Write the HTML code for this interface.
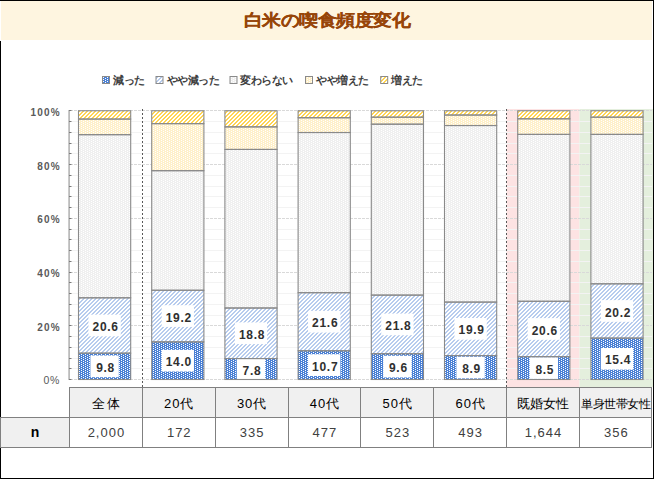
<!DOCTYPE html>
<html><head><meta charset="utf-8"><style>
html,body{margin:0;padding:0;background:#fff;}
body{width:654px;height:479px;position:relative;overflow:hidden;font-family:"Liberation Sans", sans-serif;}
#hdr{position:absolute;left:1px;top:1px;width:651px;height:39px;background:#FEF5E0;}
#title{position:absolute;left:0;top:10px;width:654px;text-align:center;font-size:18.4px;letter-spacing:0.5px;font-weight:bold;color:#974509;-webkit-text-stroke:0.2px #974509;line-height:24px;transform:scaleY(0.9);transform-origin:50% 2px;}
#frame{position:absolute;left:0;top:0;width:653px;height:477px;border-top:1px solid #000;border-right:1px solid #000;border-bottom:1px solid #000;}
#lb{position:absolute;left:0;top:41px;width:1px;height:438px;background:#000;}
</style></head><body>
<div id="hdr"></div>
<div id="title">白米の喫食頻度変化</div>
<svg width="654" height="479" style="position:absolute;left:0;top:0" font-family='"Liberation Sans", sans-serif'><defs><pattern id="pBlue" width="4" height="2" patternUnits="userSpaceOnUse"><rect width="4" height="2" fill="#4A80D5"/><rect x="1" y="0" width="1" height="1" fill="#fff"/><rect x="3" y="1" width="1" height="1" fill="#fff"/></pattern><pattern id="pLBlue" width="4" height="4" patternUnits="userSpaceOnUse"><rect width="4" height="4" fill="#fff"/><rect x="1" y="0" width="1" height="1" fill="#B7CCEE"/><rect x="2" y="0" width="1" height="1" fill="#B7CCEE"/><rect x="0" y="1" width="1" height="1" fill="#B7CCEE"/><rect x="1" y="1" width="1" height="1" fill="#B7CCEE"/><rect x="0" y="2" width="1" height="1" fill="#B7CCEE"/><rect x="3" y="2" width="1" height="1" fill="#B7CCEE"/><rect x="2" y="3" width="1" height="1" fill="#B7CCEE"/><rect x="3" y="3" width="1" height="1" fill="#B7CCEE"/></pattern><pattern id="pGray" width="4" height="2" patternUnits="userSpaceOnUse"><rect width="4" height="2" fill="#EFEFEF"/><rect x="1" y="0" width="1" height="1" fill="#fff"/><rect x="3" y="1" width="1" height="1" fill="#fff"/></pattern><pattern id="pLYel" width="4" height="2" patternUnits="userSpaceOnUse"><rect width="4" height="2" fill="#FFF0C9"/><rect x="1" y="0" width="1" height="1" fill="#fff"/><rect x="3" y="1" width="1" height="1" fill="#fff"/></pattern><pattern id="pYel" width="4" height="4" patternUnits="userSpaceOnUse"><rect width="4" height="4" fill="#fff"/><rect x="1" y="0" width="1" height="1" fill="#FFD453"/><rect x="2" y="0" width="1" height="1" fill="#FFD453"/><rect x="0" y="1" width="1" height="1" fill="#FFD453"/><rect x="1" y="1" width="1" height="1" fill="#FFD453"/><rect x="0" y="2" width="1" height="1" fill="#FFD453"/><rect x="3" y="2" width="1" height="1" fill="#FFD453"/><rect x="2" y="3" width="1" height="1" fill="#FFD453"/><rect x="3" y="3" width="1" height="1" fill="#FFD453"/></pattern></defs><rect x="506.5" y="109" width="73" height="278" fill="#FDE3E3"/><rect x="579.5" y="109" width="73.5" height="278" fill="#E4EFDD"/><line x1="70" x2="652" y1="368.5" y2="368.5" stroke="#F3F3F3" stroke-width="1"/><line x1="70" x2="652" y1="358.5" y2="358.5" stroke="#F3F3F3" stroke-width="1"/><line x1="70" x2="652" y1="347.5" y2="347.5" stroke="#F3F3F3" stroke-width="1"/><line x1="70" x2="652" y1="336.5" y2="336.5" stroke="#F3F3F3" stroke-width="1"/><line x1="70" x2="652" y1="315.5" y2="315.5" stroke="#F3F3F3" stroke-width="1"/><line x1="70" x2="652" y1="304.5" y2="304.5" stroke="#F3F3F3" stroke-width="1"/><line x1="70" x2="652" y1="293.5" y2="293.5" stroke="#F3F3F3" stroke-width="1"/><line x1="70" x2="652" y1="282.5" y2="282.5" stroke="#F3F3F3" stroke-width="1"/><line x1="70" x2="652" y1="261.5" y2="261.5" stroke="#F3F3F3" stroke-width="1"/><line x1="70" x2="652" y1="250.5" y2="250.5" stroke="#F3F3F3" stroke-width="1"/><line x1="70" x2="652" y1="239.5" y2="239.5" stroke="#F3F3F3" stroke-width="1"/><line x1="70" x2="652" y1="229.5" y2="229.5" stroke="#F3F3F3" stroke-width="1"/><line x1="70" x2="652" y1="207.5" y2="207.5" stroke="#F3F3F3" stroke-width="1"/><line x1="70" x2="652" y1="196.5" y2="196.5" stroke="#F3F3F3" stroke-width="1"/><line x1="70" x2="652" y1="186.5" y2="186.5" stroke="#F3F3F3" stroke-width="1"/><line x1="70" x2="652" y1="175.5" y2="175.5" stroke="#F3F3F3" stroke-width="1"/><line x1="70" x2="652" y1="153.5" y2="153.5" stroke="#F3F3F3" stroke-width="1"/><line x1="70" x2="652" y1="143.5" y2="143.5" stroke="#F3F3F3" stroke-width="1"/><line x1="70" x2="652" y1="132.5" y2="132.5" stroke="#F3F3F3" stroke-width="1"/><line x1="70" x2="652" y1="121.5" y2="121.5" stroke="#F3F3F3" stroke-width="1"/><line x1="70" x2="652" y1="379.5" y2="379.5" stroke="#D9D9D9" stroke-width="1" stroke-dasharray="3 1"/><line x1="70" x2="652" y1="325.5" y2="325.5" stroke="#D9D9D9" stroke-width="1" stroke-dasharray="3 1"/><line x1="70" x2="652" y1="272.5" y2="272.5" stroke="#D9D9D9" stroke-width="1" stroke-dasharray="3 1"/><line x1="70" x2="652" y1="218.5" y2="218.5" stroke="#D9D9D9" stroke-width="1" stroke-dasharray="3 1"/><line x1="70" x2="652" y1="164.5" y2="164.5" stroke="#D9D9D9" stroke-width="1" stroke-dasharray="3 1"/><line x1="70" x2="652" y1="110.5" y2="110.5" stroke="#D9D9D9" stroke-width="1" stroke-dasharray="3 1"/><line x1="69.1" x2="69.1" y1="110" y2="380.0" stroke="#B4B4B4" stroke-width="1.6"/><line x1="69" x2="71.5" y1="379.5" y2="379.5" stroke="#7A7A7A" stroke-width="1"/><line x1="69" x2="71.5" y1="368.5" y2="368.5" stroke="#7A7A7A" stroke-width="1"/><line x1="69" x2="71.5" y1="358.5" y2="358.5" stroke="#7A7A7A" stroke-width="1"/><line x1="69" x2="71.5" y1="347.5" y2="347.5" stroke="#7A7A7A" stroke-width="1"/><line x1="69" x2="71.5" y1="336.5" y2="336.5" stroke="#7A7A7A" stroke-width="1"/><line x1="69" x2="71.5" y1="325.5" y2="325.5" stroke="#7A7A7A" stroke-width="1"/><line x1="69" x2="71.5" y1="315.5" y2="315.5" stroke="#7A7A7A" stroke-width="1"/><line x1="69" x2="71.5" y1="304.5" y2="304.5" stroke="#7A7A7A" stroke-width="1"/><line x1="69" x2="71.5" y1="293.5" y2="293.5" stroke="#7A7A7A" stroke-width="1"/><line x1="69" x2="71.5" y1="282.5" y2="282.5" stroke="#7A7A7A" stroke-width="1"/><line x1="69" x2="71.5" y1="272.5" y2="272.5" stroke="#7A7A7A" stroke-width="1"/><line x1="69" x2="71.5" y1="261.5" y2="261.5" stroke="#7A7A7A" stroke-width="1"/><line x1="69" x2="71.5" y1="250.5" y2="250.5" stroke="#7A7A7A" stroke-width="1"/><line x1="69" x2="71.5" y1="239.5" y2="239.5" stroke="#7A7A7A" stroke-width="1"/><line x1="69" x2="71.5" y1="229.5" y2="229.5" stroke="#7A7A7A" stroke-width="1"/><line x1="69" x2="71.5" y1="218.5" y2="218.5" stroke="#7A7A7A" stroke-width="1"/><line x1="69" x2="71.5" y1="207.5" y2="207.5" stroke="#7A7A7A" stroke-width="1"/><line x1="69" x2="71.5" y1="196.5" y2="196.5" stroke="#7A7A7A" stroke-width="1"/><line x1="69" x2="71.5" y1="186.5" y2="186.5" stroke="#7A7A7A" stroke-width="1"/><line x1="69" x2="71.5" y1="175.5" y2="175.5" stroke="#7A7A7A" stroke-width="1"/><line x1="69" x2="71.5" y1="164.5" y2="164.5" stroke="#7A7A7A" stroke-width="1"/><line x1="69" x2="71.5" y1="153.5" y2="153.5" stroke="#7A7A7A" stroke-width="1"/><line x1="69" x2="71.5" y1="143.5" y2="143.5" stroke="#7A7A7A" stroke-width="1"/><line x1="69" x2="71.5" y1="132.5" y2="132.5" stroke="#7A7A7A" stroke-width="1"/><line x1="69" x2="71.5" y1="121.5" y2="121.5" stroke="#7A7A7A" stroke-width="1"/><line x1="69" x2="71.5" y1="110.5" y2="110.5" stroke="#7A7A7A" stroke-width="1"/><line x1="142.5" x2="142.5" y1="109" y2="387" stroke="#595959" stroke-width="1" stroke-dasharray="2 2"/><line x1="506.5" x2="506.5" y1="109" y2="387" stroke="#595959" stroke-width="1" stroke-dasharray="2 2"/><rect x="78.50" y="353.16" width="52.2" height="26.34" fill="url(#pBlue)" shape-rendering="crispEdges"/><rect x="78.50" y="297.80" width="52.2" height="55.36" fill="url(#pLBlue)" shape-rendering="crispEdges"/><rect x="78.50" y="134.67" width="52.2" height="163.13" fill="url(#pGray)" shape-rendering="crispEdges"/><rect x="78.50" y="119.08" width="52.2" height="15.59" fill="url(#pLYel)" shape-rendering="crispEdges"/><rect x="78.50" y="110.75" width="52.2" height="8.33" fill="url(#pYel)" shape-rendering="crispEdges"/><rect x="151.70" y="341.88" width="52.2" height="37.62" fill="url(#pBlue)" shape-rendering="crispEdges"/><rect x="151.70" y="290.27" width="52.2" height="51.60" fill="url(#pLBlue)" shape-rendering="crispEdges"/><rect x="151.70" y="170.68" width="52.2" height="119.59" fill="url(#pGray)" shape-rendering="crispEdges"/><rect x="151.70" y="123.65" width="52.2" height="47.03" fill="url(#pLYel)" shape-rendering="crispEdges"/><rect x="151.70" y="110.75" width="52.2" height="12.90" fill="url(#pYel)" shape-rendering="crispEdges"/><rect x="224.90" y="358.54" width="52.2" height="20.96" fill="url(#pBlue)" shape-rendering="crispEdges"/><rect x="224.90" y="308.01" width="52.2" height="50.53" fill="url(#pLBlue)" shape-rendering="crispEdges"/><rect x="224.90" y="149.45" width="52.2" height="158.56" fill="url(#pGray)" shape-rendering="crispEdges"/><rect x="224.90" y="126.87" width="52.2" height="22.57" fill="url(#pLYel)" shape-rendering="crispEdges"/><rect x="224.90" y="110.75" width="52.2" height="16.13" fill="url(#pYel)" shape-rendering="crispEdges"/><rect x="298.10" y="350.74" width="52.2" height="28.76" fill="url(#pBlue)" shape-rendering="crispEdges"/><rect x="298.10" y="292.69" width="52.2" height="58.05" fill="url(#pLBlue)" shape-rendering="crispEdges"/><rect x="298.10" y="132.52" width="52.2" height="160.17" fill="url(#pGray)" shape-rendering="crispEdges"/><rect x="298.10" y="117.74" width="52.2" height="14.78" fill="url(#pLYel)" shape-rendering="crispEdges"/><rect x="298.10" y="110.75" width="52.2" height="6.99" fill="url(#pYel)" shape-rendering="crispEdges"/><rect x="371.30" y="353.70" width="52.2" height="25.80" fill="url(#pBlue)" shape-rendering="crispEdges"/><rect x="371.30" y="295.11" width="52.2" height="58.59" fill="url(#pLBlue)" shape-rendering="crispEdges"/><rect x="371.30" y="124.19" width="52.2" height="170.93" fill="url(#pGray)" shape-rendering="crispEdges"/><rect x="371.30" y="117.20" width="52.2" height="6.99" fill="url(#pLYel)" shape-rendering="crispEdges"/><rect x="371.30" y="110.75" width="52.2" height="6.45" fill="url(#pYel)" shape-rendering="crispEdges"/><rect x="444.50" y="355.58" width="52.2" height="23.92" fill="url(#pBlue)" shape-rendering="crispEdges"/><rect x="444.50" y="302.10" width="52.2" height="53.48" fill="url(#pLBlue)" shape-rendering="crispEdges"/><rect x="444.50" y="125.53" width="52.2" height="176.57" fill="url(#pGray)" shape-rendering="crispEdges"/><rect x="444.50" y="115.05" width="52.2" height="10.48" fill="url(#pLYel)" shape-rendering="crispEdges"/><rect x="444.50" y="110.75" width="52.2" height="4.30" fill="url(#pYel)" shape-rendering="crispEdges"/><rect x="517.70" y="356.66" width="52.2" height="22.84" fill="url(#pBlue)" shape-rendering="crispEdges"/><rect x="517.70" y="301.29" width="52.2" height="55.36" fill="url(#pLBlue)" shape-rendering="crispEdges"/><rect x="517.70" y="134.40" width="52.2" height="166.89" fill="url(#pGray)" shape-rendering="crispEdges"/><rect x="517.70" y="118.81" width="52.2" height="15.59" fill="url(#pLYel)" shape-rendering="crispEdges"/><rect x="517.70" y="110.75" width="52.2" height="8.06" fill="url(#pYel)" shape-rendering="crispEdges"/><rect x="590.90" y="338.11" width="52.2" height="41.39" fill="url(#pBlue)" shape-rendering="crispEdges"/><rect x="590.90" y="283.82" width="52.2" height="54.29" fill="url(#pLBlue)" shape-rendering="crispEdges"/><rect x="590.90" y="134.40" width="52.2" height="149.42" fill="url(#pGray)" shape-rendering="crispEdges"/><rect x="590.90" y="117.20" width="52.2" height="17.20" fill="url(#pLYel)" shape-rendering="crispEdges"/><rect x="590.90" y="110.75" width="52.2" height="6.45" fill="url(#pYel)" shape-rendering="crispEdges"/><rect x="90.40" y="355.48" width="28.40" height="21.7" fill="#fff"/><rect x="88.45" y="314.63" width="32.30" height="21.7" fill="#fff"/><rect x="161.65" y="349.84" width="32.30" height="21.7" fill="#fff"/><rect x="161.65" y="305.22" width="32.30" height="21.7" fill="#fff"/><rect x="236.80" y="358.17" width="28.40" height="21.7" fill="#fff"/><rect x="234.85" y="322.42" width="32.30" height="21.7" fill="#fff"/><rect x="308.05" y="354.27" width="32.30" height="21.7" fill="#fff"/><rect x="308.05" y="310.87" width="32.30" height="21.7" fill="#fff"/><rect x="383.20" y="355.75" width="28.40" height="21.7" fill="#fff"/><rect x="381.25" y="313.56" width="32.30" height="21.7" fill="#fff"/><rect x="456.40" y="356.69" width="28.40" height="21.7" fill="#fff"/><rect x="454.45" y="317.99" width="32.30" height="21.7" fill="#fff"/><rect x="529.60" y="357.23" width="28.40" height="21.7" fill="#fff"/><rect x="527.65" y="318.12" width="32.30" height="21.7" fill="#fff"/><rect x="600.85" y="347.96" width="32.30" height="21.7" fill="#fff"/><rect x="600.85" y="300.12" width="32.30" height="21.7" fill="#fff"/><rect x="78.50" y="353.16" width="52.2" height="26.34" fill="none" stroke="#8A8A8A" stroke-width="1.1"/><rect x="78.50" y="297.80" width="52.2" height="55.36" fill="none" stroke="#8A8A8A" stroke-width="1.1"/><rect x="78.50" y="134.67" width="52.2" height="163.13" fill="none" stroke="#8A8A8A" stroke-width="1.1"/><rect x="78.50" y="119.08" width="52.2" height="15.59" fill="none" stroke="#8A8A8A" stroke-width="1.1"/><rect x="78.50" y="110.75" width="52.2" height="8.33" fill="none" stroke="#8A8A8A" stroke-width="1.1"/><rect x="151.70" y="341.88" width="52.2" height="37.62" fill="none" stroke="#8A8A8A" stroke-width="1.1"/><rect x="151.70" y="290.27" width="52.2" height="51.60" fill="none" stroke="#8A8A8A" stroke-width="1.1"/><rect x="151.70" y="170.68" width="52.2" height="119.59" fill="none" stroke="#8A8A8A" stroke-width="1.1"/><rect x="151.70" y="123.65" width="52.2" height="47.03" fill="none" stroke="#8A8A8A" stroke-width="1.1"/><rect x="151.70" y="110.75" width="52.2" height="12.90" fill="none" stroke="#8A8A8A" stroke-width="1.1"/><rect x="224.90" y="358.54" width="52.2" height="20.96" fill="none" stroke="#8A8A8A" stroke-width="1.1"/><rect x="224.90" y="308.01" width="52.2" height="50.53" fill="none" stroke="#8A8A8A" stroke-width="1.1"/><rect x="224.90" y="149.45" width="52.2" height="158.56" fill="none" stroke="#8A8A8A" stroke-width="1.1"/><rect x="224.90" y="126.87" width="52.2" height="22.57" fill="none" stroke="#8A8A8A" stroke-width="1.1"/><rect x="224.90" y="110.75" width="52.2" height="16.13" fill="none" stroke="#8A8A8A" stroke-width="1.1"/><rect x="298.10" y="350.74" width="52.2" height="28.76" fill="none" stroke="#8A8A8A" stroke-width="1.1"/><rect x="298.10" y="292.69" width="52.2" height="58.05" fill="none" stroke="#8A8A8A" stroke-width="1.1"/><rect x="298.10" y="132.52" width="52.2" height="160.17" fill="none" stroke="#8A8A8A" stroke-width="1.1"/><rect x="298.10" y="117.74" width="52.2" height="14.78" fill="none" stroke="#8A8A8A" stroke-width="1.1"/><rect x="298.10" y="110.75" width="52.2" height="6.99" fill="none" stroke="#8A8A8A" stroke-width="1.1"/><rect x="371.30" y="353.70" width="52.2" height="25.80" fill="none" stroke="#8A8A8A" stroke-width="1.1"/><rect x="371.30" y="295.11" width="52.2" height="58.59" fill="none" stroke="#8A8A8A" stroke-width="1.1"/><rect x="371.30" y="124.19" width="52.2" height="170.93" fill="none" stroke="#8A8A8A" stroke-width="1.1"/><rect x="371.30" y="117.20" width="52.2" height="6.99" fill="none" stroke="#8A8A8A" stroke-width="1.1"/><rect x="371.30" y="110.75" width="52.2" height="6.45" fill="none" stroke="#8A8A8A" stroke-width="1.1"/><rect x="444.50" y="355.58" width="52.2" height="23.92" fill="none" stroke="#8A8A8A" stroke-width="1.1"/><rect x="444.50" y="302.10" width="52.2" height="53.48" fill="none" stroke="#8A8A8A" stroke-width="1.1"/><rect x="444.50" y="125.53" width="52.2" height="176.57" fill="none" stroke="#8A8A8A" stroke-width="1.1"/><rect x="444.50" y="115.05" width="52.2" height="10.48" fill="none" stroke="#8A8A8A" stroke-width="1.1"/><rect x="444.50" y="110.75" width="52.2" height="4.30" fill="none" stroke="#8A8A8A" stroke-width="1.1"/><rect x="517.70" y="356.66" width="52.2" height="22.84" fill="none" stroke="#8A8A8A" stroke-width="1.1"/><rect x="517.70" y="301.29" width="52.2" height="55.36" fill="none" stroke="#8A8A8A" stroke-width="1.1"/><rect x="517.70" y="134.40" width="52.2" height="166.89" fill="none" stroke="#8A8A8A" stroke-width="1.1"/><rect x="517.70" y="118.81" width="52.2" height="15.59" fill="none" stroke="#8A8A8A" stroke-width="1.1"/><rect x="517.70" y="110.75" width="52.2" height="8.06" fill="none" stroke="#8A8A8A" stroke-width="1.1"/><rect x="590.90" y="338.11" width="52.2" height="41.39" fill="none" stroke="#8A8A8A" stroke-width="1.1"/><rect x="590.90" y="283.82" width="52.2" height="54.29" fill="none" stroke="#8A8A8A" stroke-width="1.1"/><rect x="590.90" y="134.40" width="52.2" height="149.42" fill="none" stroke="#8A8A8A" stroke-width="1.1"/><rect x="590.90" y="117.20" width="52.2" height="17.20" fill="none" stroke="#8A8A8A" stroke-width="1.1"/><rect x="590.90" y="110.75" width="52.2" height="6.45" fill="none" stroke="#8A8A8A" stroke-width="1.1"/><text x="105.60" y="371.93" text-anchor="middle" font-size="12" letter-spacing="0.7" font-weight="bold" fill="#303030">9.8</text><text x="105.60" y="331.08" text-anchor="middle" font-size="12" letter-spacing="0.7" font-weight="bold" fill="#303030">20.6</text><text x="178.80" y="366.29" text-anchor="middle" font-size="12" letter-spacing="0.7" font-weight="bold" fill="#303030">14.0</text><text x="178.80" y="321.68" text-anchor="middle" font-size="12" letter-spacing="0.7" font-weight="bold" fill="#303030">19.2</text><text x="252.00" y="374.62" text-anchor="middle" font-size="12" letter-spacing="0.7" font-weight="bold" fill="#303030">7.8</text><text x="252.00" y="338.88" text-anchor="middle" font-size="12" letter-spacing="0.7" font-weight="bold" fill="#303030">18.8</text><text x="325.20" y="370.72" text-anchor="middle" font-size="12" letter-spacing="0.7" font-weight="bold" fill="#303030">10.7</text><text x="325.20" y="327.32" text-anchor="middle" font-size="12" letter-spacing="0.7" font-weight="bold" fill="#303030">21.6</text><text x="398.40" y="372.20" text-anchor="middle" font-size="12" letter-spacing="0.7" font-weight="bold" fill="#303030">9.6</text><text x="398.40" y="330.01" text-anchor="middle" font-size="12" letter-spacing="0.7" font-weight="bold" fill="#303030">21.8</text><text x="471.60" y="373.14" text-anchor="middle" font-size="12" letter-spacing="0.7" font-weight="bold" fill="#303030">8.9</text><text x="471.60" y="334.44" text-anchor="middle" font-size="12" letter-spacing="0.7" font-weight="bold" fill="#303030">19.9</text><text x="544.80" y="373.68" text-anchor="middle" font-size="12" letter-spacing="0.7" font-weight="bold" fill="#303030">8.5</text><text x="544.80" y="334.58" text-anchor="middle" font-size="12" letter-spacing="0.7" font-weight="bold" fill="#303030">20.6</text><text x="618.00" y="364.41" text-anchor="middle" font-size="12" letter-spacing="0.7" font-weight="bold" fill="#303030">15.4</text><text x="618.00" y="316.57" text-anchor="middle" font-size="12" letter-spacing="0.7" font-weight="bold" fill="#303030">20.2</text><text x="60" y="384.00" text-anchor="end" font-size="10.5" letter-spacing="0.6" fill="#595959">0%</text><text x="60.9" y="330.75" text-anchor="end" font-size="10" letter-spacing="1.2" font-weight="bold" fill="#5A5A5A">20%</text><text x="60.9" y="277.00" text-anchor="end" font-size="10" letter-spacing="1.2" font-weight="bold" fill="#5A5A5A">40%</text><text x="60.9" y="223.25" text-anchor="end" font-size="10" letter-spacing="1.2" font-weight="bold" fill="#5A5A5A">60%</text><text x="60.9" y="169.50" text-anchor="end" font-size="10" letter-spacing="1.2" font-weight="bold" fill="#5A5A5A">80%</text><text x="60.9" y="115.75" text-anchor="end" font-size="10" letter-spacing="1.2" font-weight="bold" fill="#5A5A5A">100%</text><rect x="102.5" y="76.5" width="7" height="7" fill="url(#pBlue)" stroke="#8A8A8A" stroke-width="1"/><text x="113" y="83.6" font-size="11" letter-spacing="-0.4" font-weight="bold" fill="#404040">減った</text><rect x="156.0" y="76.5" width="7" height="7" fill="url(#pLBlue)" stroke="#8A8A8A" stroke-width="1"/><text x="166.5" y="83.6" font-size="11" letter-spacing="-0.4" font-weight="bold" fill="#404040">やや減った</text><rect x="230.0" y="76.5" width="7" height="7" fill="url(#pGray)" stroke="#8A8A8A" stroke-width="1"/><text x="240" y="83.6" font-size="11" letter-spacing="-0.4" font-weight="bold" fill="#404040">変わらない</text><rect x="305.5" y="76.5" width="7" height="7" fill="url(#pLYel)" stroke="#8A8A8A" stroke-width="1"/><text x="316" y="83.6" font-size="11" letter-spacing="-0.4" font-weight="bold" fill="#404040">やや増えた</text><rect x="380.7" y="76.5" width="7" height="7" fill="url(#pYel)" stroke="#8A8A8A" stroke-width="1"/><text x="391" y="83.6" font-size="11" letter-spacing="-0.4" font-weight="bold" fill="#404040">増えた</text></svg>
<div id="frame"></div><div id="lb"></div>
<svg width="654" height="479" style="position:absolute;left:0;top:0" font-family='"Liberation Sans", sans-serif'><rect x="69.5" y="387.5" width="582" height="30" fill="#F0F0F0" stroke="#808080" stroke-width="1"/><rect x="0.5" y="417.5" width="69" height="30" fill="#F0F0F0" stroke="#808080" stroke-width="1"/><rect x="69.5" y="417.5" width="582" height="30" fill="#fff" stroke="#808080" stroke-width="1"/><line x1="142.5" x2="142.5" y1="387.5" y2="447.5" stroke="#808080" stroke-width="1"/><line x1="215.5" x2="215.5" y1="387.5" y2="447.5" stroke="#808080" stroke-width="1"/><line x1="288.5" x2="288.5" y1="387.5" y2="447.5" stroke="#808080" stroke-width="1"/><line x1="360.5" x2="360.5" y1="387.5" y2="447.5" stroke="#808080" stroke-width="1"/><line x1="433.5" x2="433.5" y1="387.5" y2="447.5" stroke="#808080" stroke-width="1"/><line x1="506.5" x2="506.5" y1="387.5" y2="447.5" stroke="#808080" stroke-width="1"/><line x1="579.5" x2="579.5" y1="387.5" y2="447.5" stroke="#808080" stroke-width="1"/><text x="106.92" y="408" text-anchor="middle" font-size="13" letter-spacing="2" fill="#000">全体</text><text x="106.42" y="437.3" text-anchor="middle" font-size="13" letter-spacing="1" fill="#404040">2,000</text><text x="179.27" y="408" text-anchor="middle" font-size="13" letter-spacing="1" fill="#000">20代</text><text x="179.27" y="437.3" text-anchor="middle" font-size="13" letter-spacing="1" fill="#404040">172</text><text x="252.12" y="408" text-anchor="middle" font-size="13" letter-spacing="1" fill="#000">30代</text><text x="252.12" y="437.3" text-anchor="middle" font-size="13" letter-spacing="1" fill="#404040">335</text><text x="324.97" y="408" text-anchor="middle" font-size="13" letter-spacing="1" fill="#000">40代</text><text x="324.97" y="437.3" text-anchor="middle" font-size="13" letter-spacing="1" fill="#404040">477</text><text x="397.82" y="408" text-anchor="middle" font-size="13" letter-spacing="1" fill="#000">50代</text><text x="397.82" y="437.3" text-anchor="middle" font-size="13" letter-spacing="1" fill="#404040">523</text><text x="470.67" y="408" text-anchor="middle" font-size="13" letter-spacing="1" fill="#000">60代</text><text x="470.67" y="437.3" text-anchor="middle" font-size="13" letter-spacing="1" fill="#404040">493</text><text x="543.02" y="408" text-anchor="middle" font-size="13" letter-spacing="0" fill="#000">既婚女性</text><text x="543.52" y="437.3" text-anchor="middle" font-size="13" letter-spacing="1" fill="#404040">1,644</text><text x="615.88" y="408" text-anchor="middle" font-size="11.5" letter-spacing="-0.5" fill="#000">単身世帯女性</text><text x="616.38" y="437.3" text-anchor="middle" font-size="13" letter-spacing="1" fill="#404040">356</text><text x="35.1" y="437.3" text-anchor="middle" font-size="14" font-weight="bold" fill="#000">n</text></svg>
</body></html>
